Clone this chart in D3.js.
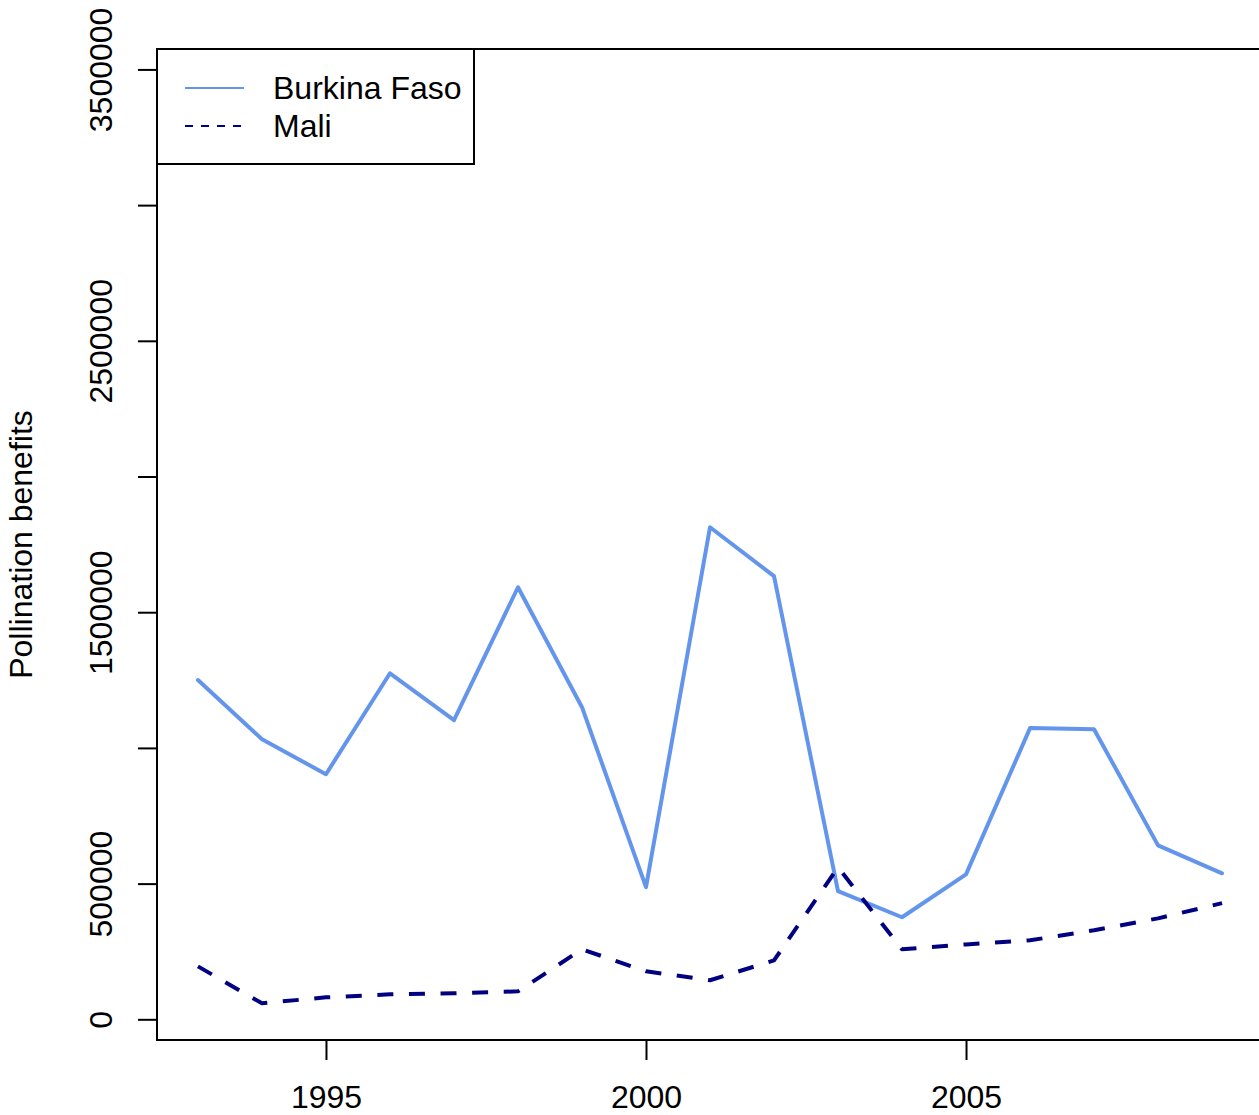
<!DOCTYPE html>
<html>
<head>
<meta charset="utf-8">
<script src="https://cdn.jsdelivr.net/npm/d3@7"></script>
<style>
  html, body { margin: 0; padding: 0; background: #fff; }
  text { font-family: "Liberation Sans", Arial, Helvetica, sans-serif; fill: #000; }
</style>
</head>
<body>
<script>
// ---- data ----
const years = [1993, 1994, 1995, 1996, 1997, 1998, 1999, 2000, 2001, 2002, 2003, 2004, 2005, 2006, 2007, 2008, 2009];
const burkinaFaso = [1250000, 1032000, 903000, 1275000, 1102000, 1592000, 1150000, 487000, 1813000, 1633000, 472000, 376000, 534000, 1073000, 1069000, 641000, 538000];
const mali = [195000, 59000, 81000, 92000, 96000, 103000, 258000, 177000, 144000, 217000, 560000, 258000, 276000, 291000, 328000, 372000, 428000];
const seriesNames = ["Burkina Faso", "Mali"];
const seriesColors = ["#6495ED", "#000080"];
const yTicks = [0, 500000, 1000000, 1500000, 2000000, 2500000, 3000000, 3500000];
const yTickLabels = ["0", "500000", "", "1500000", "", "2500000", "", "3500000"];
const xTicks = [1995, 2000, 2005];
const xlim = [1993, 2009];
const ylim = [59000, 3440000];
const yTitle = "Pollination benefits";

// ---- layout ----
const W = 1259, H = 1115;
const plotL = 157, plotR = 1263, plotT = 49, plotB = 1040;
const FS = 32;

const ext = (a) => { const d = (a[1] - a[0]) * 0.04; return [a[0] - d, a[1] + d]; };
const x = d3.scaleLinear().domain(ext(xlim)).range([plotL, plotR]);
const y = d3.scaleLinear().domain(ext(ylim)).range([plotB, plotT]);

const svg = d3.select("body").append("svg")
  .attr("width", W).attr("height", H)
  .attr("viewBox", `0 0 ${W} ${H}`);

svg.append("rect").attr("width", W).attr("height", H).attr("fill", "#fff");

// lines
const line = d3.line().x((d, i) => x(years[i])).y(d => y(d));
svg.append("path").datum(burkinaFaso)
  .attr("d", line).attr("fill", "none")
  .attr("stroke", seriesColors[0]).attr("stroke-width", 4)
  .attr("stroke-linejoin", "round").attr("stroke-linecap", "round");
svg.append("path").datum(mali)
  .attr("d", line).attr("fill", "none")
  .attr("stroke", seriesColors[1]).attr("stroke-width", 4)
  .attr("stroke-dasharray", "16,15.6")
  .attr("stroke-linejoin", "round").attr("stroke-linecap", "butt");

// box
svg.append("rect")
  .attr("x", plotL).attr("y", plotT)
  .attr("width", plotR - plotL).attr("height", plotB - plotT)
  .attr("fill", "none").attr("stroke", "#000").attr("stroke-width", 2);

// y axis
const yAxis = d3.axisLeft(y).tickValues(yTicks).tickSize(19).tickPadding(0)
  .tickFormat((d, i) => yTickLabels[i]);
const gy = svg.append("g").attr("transform", `translate(${plotL},0)`).call(yAxis);
gy.select(".domain").remove();
gy.selectAll(".tick line").attr("stroke", "#000").attr("stroke-width", 2);
gy.selectAll(".tick text")
  .attr("x", 0).attr("y", 0)
  .attr("transform", `translate(${112 - plotL},0) rotate(-90)`)
  .attr("text-anchor", "middle")
  .attr("dy", 0)
  .style("font-size", FS + "px")
  .style("font-family", '"Liberation Sans", Arial, sans-serif')
  .attr("fill", "#000");

// x axis
const xAxis = d3.axisBottom(x).tickValues(xTicks).tickSize(20).tickPadding(0)
  .tickFormat(d3.format("d"));
const gx = svg.append("g").attr("transform", `translate(0,${plotB})`).call(xAxis);
gx.select(".domain").remove();
gx.selectAll(".tick line").attr("stroke", "#000").attr("stroke-width", 2);
gx.selectAll(".tick text")
  .attr("y", 1108 - plotB).attr("dy", 0)
  .attr("text-anchor", "middle")
  .style("font-size", FS + "px")
  .style("font-family", '"Liberation Sans", Arial, sans-serif')
  .attr("fill", "#000");

// y title
svg.append("text")
  .attr("transform", `translate(32,${(plotT + plotB) / 2}) rotate(-90)`)
  .attr("text-anchor", "middle")
  .style("font-size", FS + "px")
  .text(yTitle);

// legend
const lg = svg.append("g");
lg.append("rect").attr("x", plotL).attr("y", plotT)
  .attr("width", 474 - plotL).attr("height", 164 - plotT)
  .attr("fill", "#fff").attr("stroke", "#000").attr("stroke-width", 2);
const legY = [88, 126];
seriesNames.forEach((name, i) => {
  lg.append("line")
    .attr("x1", 185).attr("x2", 244)
    .attr("y1", legY[i]).attr("y2", legY[i])
    .attr("stroke", seriesColors[i]).attr("stroke-width", 2)
    .attr("stroke-dasharray", i === 1 ? "8,8" : null);
  lg.append("text")
    .attr("x", 273).attr("y", legY[i] + 11)
    .style("font-size", FS + "px")
    .text(name);
});
</script>
</body>
</html>
